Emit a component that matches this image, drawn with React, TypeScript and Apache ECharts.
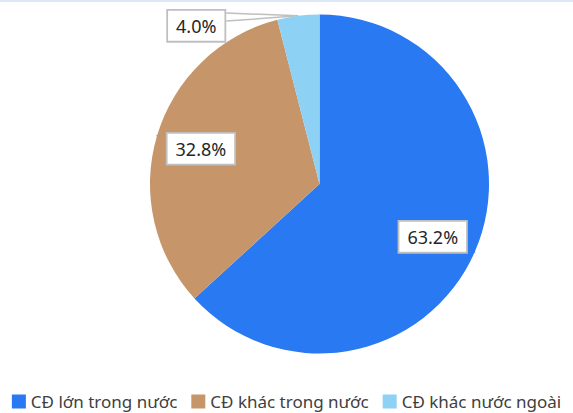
import React, { useEffect, useRef } from "react";
import * as echarts from "echarts";

const categories = ["CĐ lớn trong nước", "CĐ khác trong nước", "CĐ khác nước ngoài"];
const values = [63.2, 32.8, 4.0];
const colors = ["#2979F2", "#C69569", "#8DD1F5"];

const CX = 319.5;
const CY = 184;
const R = 169.5;

export default function App() {
  const ref = useRef<HTMLDivElement>(null);
  useEffect(() => {
    document.body.style.margin = "0";
    const chart = echarts.init(ref.current!, null, { renderer: "svg" });
    const total = values.reduce((a, b) => a + b, 0);
    const midAngle = (i: number) => {
      let acc = 0;
      for (let j = 0; j < i; j++) acc += values[j];
      return ((acc + values[i] / 2) / total) * Math.PI * 2;
    };
    chart.setOption({
      animation: false,
      graphic: [
        { type: "rect", x: 0, y: 0, shape: { width: 573, height: 2 }, style: { fill: "#DCE8F6" }, silent: true },
      ],
      legend: {
        left: "center",
        top: 388,
        icon: "rect",
        itemWidth: 14,
        itemHeight: 14,
        itemGap: 14,
        textStyle: { fontSize: 17, color: "#404040", fontFamily: "Noto Sans" },
        data: categories,
      },
      series: [
        {
          type: "pie",
          center: [CX, CY],
          radius: R,
          startAngle: 90,
          clockwise: true,
          avoidLabelOverlap: false,
          data: categories.map((name, i) => ({
            name,
            value: values[i],
            itemStyle: { color: colors[i] },
          })),
          label: {
            show: true,
            position: "outside",
            formatter: (p: any) => p.value.toFixed(1) + "%",
            fontSize: 18,
            fontFamily: "Noto Sans",
            color: "#262626",
            backgroundColor: "#ffffff",
            borderColor: "#BFBFBF",
            borderWidth: 1.8,
            padding: [4, 8],
            lineHeight: 22,
          },
          labelLine: { show: true, lineStyle: { color: "#BFBFBF", width: 1.5 } },
          labelLayout: (p: any) => {
            const i = p.dataIndex;
            const m = midAngle(i);
            const ax = CX + R * Math.sin(m);
            const ay = CY - R * Math.cos(m);
            const w = p.labelRect.width;
            const h = p.labelRect.height;
            let lx: number, ly: number;
            let pts: number[][];
            if (i < 2) {
              lx = CX + 0.73 * R * Math.sin(m);
              ly = CY - 0.73 * R * Math.cos(m) + (i === 0 ? 3 : 0);
              if (i === 0) {
                pts = [[lx + w / 2, ly + h / 2 - 13], [ax, ay], [lx + w / 2 - 8, ly + h / 2]];
              } else {
                pts = [[lx - w / 2, ly - h / 2 + 13], [ax, ay], [lx - w / 2 + 5, ly - h / 2]];
              }
            } else {
              lx = ax - 102;
              ly = ay + 10;
              pts = [[lx + w / 2, ly - h / 2 + 4], [ax, ay], [lx + w / 2, ly - h / 2 + 12]];
            }
            return { x: lx, y: ly, align: "center", verticalAlign: "middle", labelLinePoints: pts };
          },
        },
      ],
    });
    return () => chart.dispose();
  }, []);
  return <div ref={ref} style={{ width: 573, height: 413 }} />;
}
